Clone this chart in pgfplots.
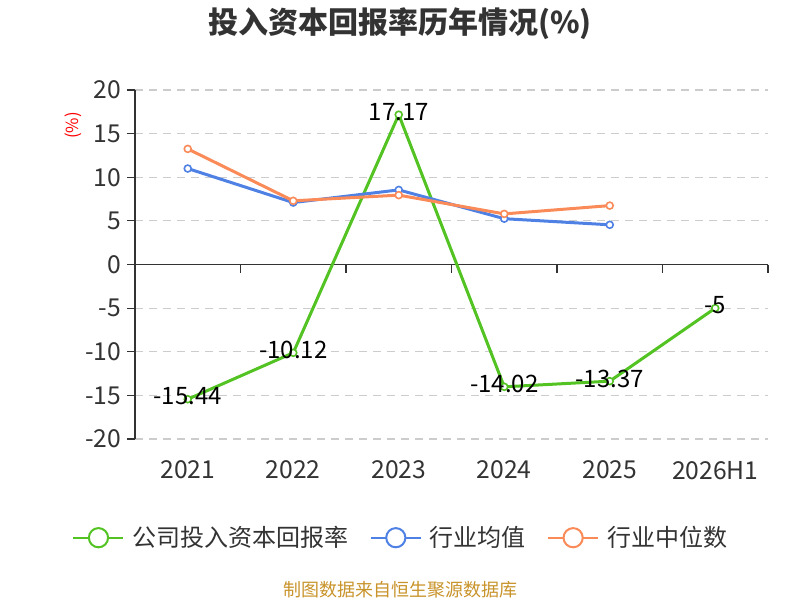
\documentclass[border=0pt]{standalone}
\usepackage{pgfplots}
\pgfplotsset{compat=1.18}
\usepackage{fontspec}
\setmainfont{Noto Sans CJK SC}
\definecolor{cgreen}{HTML}{52C322}
\definecolor{cblue}{HTML}{4F81E5}
\definecolor{corange}{HTML}{FA8A58}
\definecolor{cgrid}{HTML}{CCCCCC}
\definecolor{cdark}{HTML}{333333}
\definecolor{cfoot}{HTML}{C8932A}
\begin{document}
\begin{tikzpicture}[x=1pt,y=1pt]
\path (0,0) rectangle (600,450);
\node[font=\bfseries\fontsize{22.5}{26}\selectfont, text=cdark] at (300,432.4) {投入资本回报率历年情况(\%)};
\node[rotate=90, text=red, font=\fontsize{12.5}{14}\selectfont] at (55,355.9) {(\%)};
\node[text=cfoot, font=\fontsize{13.5}{16}\selectfont] at (300,7.9) {制图数据来自恒生聚源数据库};
\begin{axis}[
  at={(101.25pt,120.75pt)}, anchor=south west,
  scale only axis, width=474.75pt, height=261.75pt,
  xmin=-0.5, xmax=5.5, ymin=-20, ymax=20,
  xtick={0,1,2,3,4,5},
  xticklabels={2021,2022,2023,2024,2025,2026H1},
  ytick={-20,-15,-10,-5,0,5,10,15,20},
  axis lines*=left,
  x axis line style={draw=none},
  y axis line style={cdark, line width=0.9pt},
  xtick style={draw=none},
  ytick style={cdark, line width=0.9pt},
  tick align=outside,
  major tick length=6pt,
  ymajorgrids,
  grid style={cgrid, line width=0.8pt, dash pattern=on 6pt off 4.5pt},
  /pgf/number format/assume math mode=true,
  tick label style={font=\fontsize{18.5}{20}\selectfont, text=cdark},
  xticklabel style={yshift=-7pt},
  yticklabel style={xshift=-1pt},
  legend columns=3,
  legend style={at={(0.4194,-0.2828)}, anchor=center, draw=none, fill=none,
    font=\fontsize{18}{20}\selectfont, text=cdark,
    /tikz/every odd column/.append style={column sep=5pt},
    /tikz/every even column/.append style={column sep=15pt},
    nodes={inner sep=1pt}},
  legend image code/.code={
    \draw[#1, mark=none, line width=1.5pt] (0pt,0pt) -- (37.5pt,0pt);
    \draw[#1, mark=none, line width=1.5pt, fill=white] (18.75pt,0pt) circle (7.2pt);
  },
  clip=false,
]
\draw[cdark, line width=0.9pt] (axis cs:-0.5,0) -- (axis cs:5.5,0);
\pgfplotsinvokeforeach{-0.5,0.5,1.5,2.5,3.5,4.5,5.5}{
  \draw[cdark, line width=0.9pt] (axis cs:#1,0) -- ([yshift=-6pt]axis cs:#1,0);
}
\addplot[cgreen, line width=2.25pt, mark=*, mark size=2.6pt,
  mark options={fill=white, line width=1.2pt},
  nodes near coords, point meta=explicit symbolic,
  every node near coord/.append style={anchor=center, yshift=2pt, text=black,
    font=\fontsize{18}{20}\selectfont}]
  coordinates {(0,-15.44)[-15.44] (1,-10.12)[-10.12] (2,17.17)[17.17]
               (3,-14.02)[-14.02] (4,-13.37)[-13.37] (5,-5)[-5]};
\addlegendentry{公司投入资本回报率}
\addplot[cblue, line width=2.25pt, mark=*, mark size=2.6pt,
  mark options={fill=white, line width=1.2pt}]
  coordinates {(0,11.0) (1,7.1) (2,8.55) (3,5.25) (4,4.55)};
\addlegendentry{行业均值}
\addplot[corange, line width=2.25pt, mark=*, mark size=2.6pt,
  mark options={fill=white, line width=1.2pt}]
  coordinates {(0,13.25) (1,7.3) (2,7.95) (3,5.8) (4,6.75)};
\addlegendentry{行业中位数}
\end{axis}
\end{tikzpicture}
\end{document}
